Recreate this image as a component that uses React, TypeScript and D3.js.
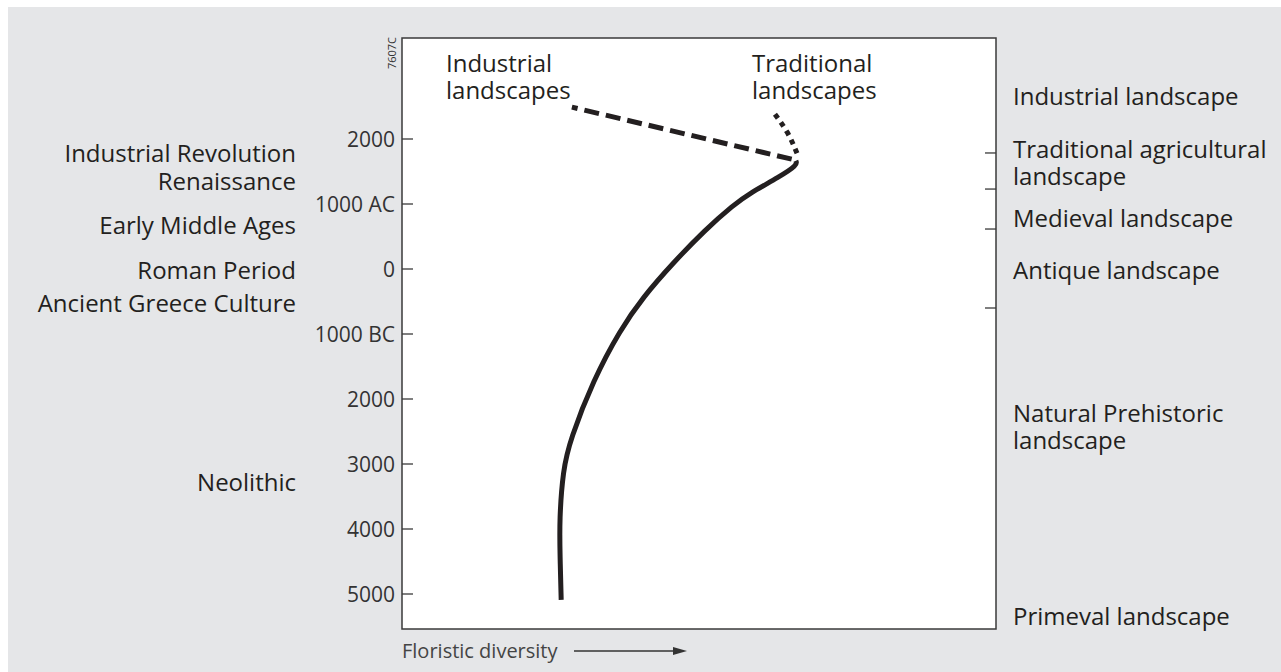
import React from 'react';
import * as d3 from 'd3';

// years (AC positive, BC negative) vs floristic diversity (0-100)
const solidYears = [-5090, -4400, -3860, -3090, -2630, -1710, -940, -430, 90, 600, 985, 1170, 1415, 1600, 1665];
const solidDiversity = [26.8, 26.6, 26.5, 27.1, 28.3, 32.2, 36.7, 40.6, 45.6, 51.0, 55.8, 58.6, 63.5, 66.6, 66.3];

const industrialYears = [1690, 2490];
const industrialDiversity = [65.6, 28.6];

const traditionalYears = [1780, 2110, 2415];
const traditionalDiversity = [66.5, 65.0, 62.5];

const tickYears = [2000, 1000, 0, -1000, -2000, -3000, -4000, -5000];
const tickLabels = ['2000', '1000 AC', '0', '1000 BC', '2000', '3000', '4000', '5000'];

const rightTickYears = [1785, 1230, 615, -600];

const periodLabels = ['Industrial Revolution', 'Renaissance', 'Early Middle Ages', 'Roman Period', 'Ancient Greece Culture', 'Neolithic'];
const periodYears = [1790, 1360, 690, 0, -520, -3270];

const landscapeLabels = [
  ['Industrial landscape'],
  ['Traditional agricultural', 'landscape'],
  ['Medieval landscape'],
  ['Antique landscape'],
  ['Natural Prehistoric', 'landscape'],
  ['Primeval landscape'],
];
const landscapeYears = [2680, 1650, 800, 0, -2400, -5320];

const font = '"Open Sans", "DejaVu Sans", sans-serif';
const ink = '#231f20';

export default function App() {
  const left = 402;
  const right = 996;
  const top = 38;
  const bottom = 629;

  const y = d3.scaleLinear([-5000, 2000], [594, 139]);
  const x = d3.scaleLinear([0, 100], [left, right]);

  const line = d3
    .line<[number, number]>()
    .x((d) => x(d[1]))
    .y((d) => y(d[0]))
    .curve(d3.curveBasis);

  const zip = (a: number[], b: number[]) => a.map((v, i) => [v, b[i]] as [number, number]);

  return (
    <svg width={1281} height={672} style={{ position: 'absolute', left: 0, top: 0 }}>
      <rect x={8} y={7} width={1273} height={665} fill="#e5e6e8" />
      <rect x={left} y={top} width={right - left} height={bottom - top} fill="#fff" stroke="#3a3a3a" strokeWidth={1.5} />

      {tickYears.map((t, i) => (
        <g key={'t' + i}>
          <line x1={left} x2={left + 11} y1={y(t)} y2={y(t)} stroke="#3a3a3a" strokeWidth={1.3} />
          <text
            x={left - 7}
            y={y(t)}
            textAnchor="end"
            dominantBaseline="central"
            fontFamily={font}
            fontSize={21}
            fill="#333"
          >
            {tickLabels[i]}
          </text>
        </g>
      ))}

      {rightTickYears.map((t, i) => (
        <line key={'r' + i} x1={right - 11} x2={right} y1={y(t)} y2={y(t)} stroke="#3a3a3a" strokeWidth={1.3} />
      ))}

      <text transform="translate(396,37) rotate(-90)" textAnchor="end" fontFamily={font} fontSize={11} fill="#333">
        7607C
      </text>

      <path d={line(zip(solidYears, solidDiversity)) || ''} fill="none" stroke={ink} strokeWidth={5} />
      <path d={line(zip(industrialYears, industrialDiversity)) || ''} fill="none" stroke={ink} strokeWidth={5} strokeDasharray="15 7" />
      <path d={line(zip(traditionalYears, traditionalDiversity)) || ''} fill="none" stroke={ink} strokeWidth={5} strokeDasharray="5 5" />

      <text fontFamily={font} fontSize={24} fill={ink}>
        <tspan x={446} y={72}>Industrial</tspan>
        <tspan x={446} y={99}>landscapes</tspan>
      </text>
      <text fontFamily={font} fontSize={24} fill={ink}>
        <tspan x={752} y={72}>Traditional</tspan>
        <tspan x={752} y={99}>landscapes</tspan>
      </text>

      {periodLabels.map((p, i) => (
        <text
          key={'p' + i}
          x={296}
          y={y(periodYears[i])}
          textAnchor="end"
          dominantBaseline="central"
          fontFamily={font}
          fontSize={24}
          fill={ink}
        >
          {p}
        </text>
      ))}

      {landscapeLabels.map((lines, i) => {
        const cy = y(landscapeYears[i]);
        const startY = cy - ((lines.length - 1) * 27) / 2;
        return (
          <text key={'l' + i} fontFamily={font} fontSize={24} fill={ink} dominantBaseline="central">
            {lines.map((s, j) => (
              <tspan key={j} x={1013} y={startY + j * 27}>
                {s}
              </tspan>
            ))}
          </text>
        );
      })}

      <text x={402} y={650} dominantBaseline="central" fontFamily={font} fontSize={20} fill="#444">
        Floristic diversity
      </text>
      <line x1={574} x2={676} y1={651} y2={651} stroke="#333" strokeWidth={1.3} />
      <path d="M687,651 L673,647 L673,655 Z" fill="#333" />
    </svg>
  );
}
